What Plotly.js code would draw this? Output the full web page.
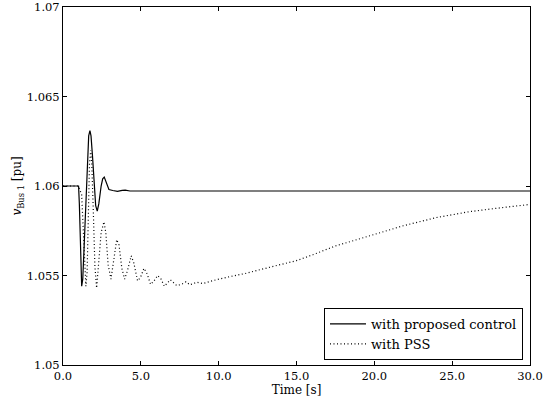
<!DOCTYPE html>
<html>
<head>
<meta charset="utf-8">
<script src="https://cdn.plot.ly/plotly-3.0.1.min.js"></script>
<style>html,body{margin:0;padding:0;background:#fff;}#chart{width:552px;height:402px;}</style>
</head>
<body>
<div id="chart"></div>
<script>
// Solid: with proposed control
const tControl = [0, 1.0, 1.05, 1.1, 1.15, 1.2, 1.27, 1.35, 1.45, 1.55, 1.65, 1.73, 1.8, 1.9, 2.0, 2.1, 2.2, 2.3, 2.45, 2.55, 2.65, 2.8, 2.95, 3.2, 3.5, 3.8, 4.0, 4.3, 5.0, 30];
const vControl = [1.06, 1.06, 1.0590, 1.0570, 1.0552, 1.0544, 1.0548, 1.0565, 1.0590, 1.0613, 1.0628, 1.0631, 1.0628, 1.0616, 1.0600, 1.0589, 1.0586, 1.0590, 1.0600, 1.0604, 1.0605, 1.0601, 1.0598, 1.05975, 1.0597, 1.05976, 1.05977, 1.05972, 1.05972, 1.05972];
// Dotted: with PSS
const tPSS = [0, 1.0, 1.2, 1.3, 1.38, 1.47, 1.55, 1.62, 1.7, 1.78, 1.85, 1.95, 2.05, 2.16, 2.28, 2.45, 2.63, 2.75, 2.9, 3.08, 3.25, 3.45, 3.6, 3.78, 3.96, 4.15, 4.38, 4.55, 4.79, 4.98, 5.2, 5.4, 5.63, 5.85, 6.08, 6.3, 6.51, 6.7, 6.9, 7.1, 7.3, 7.6, 7.9, 8.15, 8.6, 9.0, 9.65, 10.73, 11.8, 12.86, 13.94, 15.0, 16.08, 17.5, 19.72, 21.86, 24.0, 26.14, 28.28, 30];
const vPSS = [1.06, 1.06, 1.0595, 1.0575, 1.0555, 1.0544, 1.0552, 1.0585, 1.0612, 1.0620, 1.0612, 1.0585, 1.0555, 1.0543, 1.0555, 1.0574, 1.0580, 1.0574, 1.0556, 1.0548, 1.0558, 1.0570, 1.0567, 1.0554, 1.0548, 1.0553, 1.0561, 1.0557, 1.0547, 1.0549, 1.0554, 1.0551, 1.0545, 1.0547, 1.0550, 1.0548, 1.0544, 1.0546, 1.05476, 1.0546, 1.05444, 1.0545, 1.05465, 1.05448, 1.05462, 1.05455, 1.05472, 1.05494, 1.05513, 1.05537, 1.05561, 1.05583, 1.05617, 1.05665, 1.05722, 1.05778, 1.05824, 1.05857, 1.0588, 1.05897];
const xTicks = [0, 5, 10, 15, 20, 25, 30];
const xTickText = ["0.0", "5.0", "10.0", "15.0", "20.0", "25.0", "30.0"];
const yTicks = [1.05, 1.055, 1.06, 1.065, 1.07];
const yTickText = ["1.05", "1.055", "1.06", "1.065", "1.07"];
const seriesNames = ["with proposed control", "with PSS"];

const FONT = "DejaVu Serif";

const traces = [
  {x: tControl, y: vControl, name: seriesNames[0], type: 'scatter', mode: 'lines',
   line: {color: '#000', width: 1.2}},
  {x: tPSS, y: vPSS, name: seriesNames[1], type: 'scatter', mode: 'lines',
   line: {color: '#000', width: 1.2, dash: '1px,2.5px'}}
];

const layout = {
  width: 552, height: 402,
  margin: {l: 63, r: 22, t: 7, b: 37},
  paper_bgcolor: '#fff', plot_bgcolor: '#fff',
  font: {family: FONT, size: 12, color: '#000'},
  showlegend: true,
  legend: {
    x: 0.985, xanchor: 'right', y: 0.014, yanchor: 'bottom',
    bgcolor: '#fff', bordercolor: '#000', borderwidth: 1,
    font: {family: FONT, size: 13, color: '#000'},
    itemwidth: 36, tracegroupgap: 0
  },
  xaxis: {
    range: [0, 30], tickmode: 'array', tickvals: xTicks, ticktext: xTickText,
    ticks: 'inside', ticklen: 4, tickwidth: 1, tickcolor: '#000',
    showline: true, linecolor: '#000', linewidth: 1, mirror: 'ticks',
    showgrid: false, zeroline: false, ticklabeloverflow: 'allow',
    tickfont: {family: FONT, size: 11.5},
    title: {text: 'Time [s]', font: {family: FONT, size: 12}, standoff: 2}
  },
  yaxis: {
    range: [1.05, 1.07], tickmode: 'array', tickvals: yTicks, ticktext: yTickText,
    ticks: 'inside', ticklen: 4, tickwidth: 1, tickcolor: '#000',
    showline: true, linecolor: '#000', linewidth: 1, mirror: 'ticks',
    showgrid: false, zeroline: false, ticklabeloverflow: 'allow',
    tickfont: {family: FONT, size: 11.5},
    title: {text: '<i>v</i><sub>Bus 1</sub> [pu]', font: {family: FONT, size: 12}, standoff: 2}
  }
};

Plotly.newPlot('chart', traces, layout, {displayModeBar: false, staticPlot: true});
</script>
</body>
</html>
